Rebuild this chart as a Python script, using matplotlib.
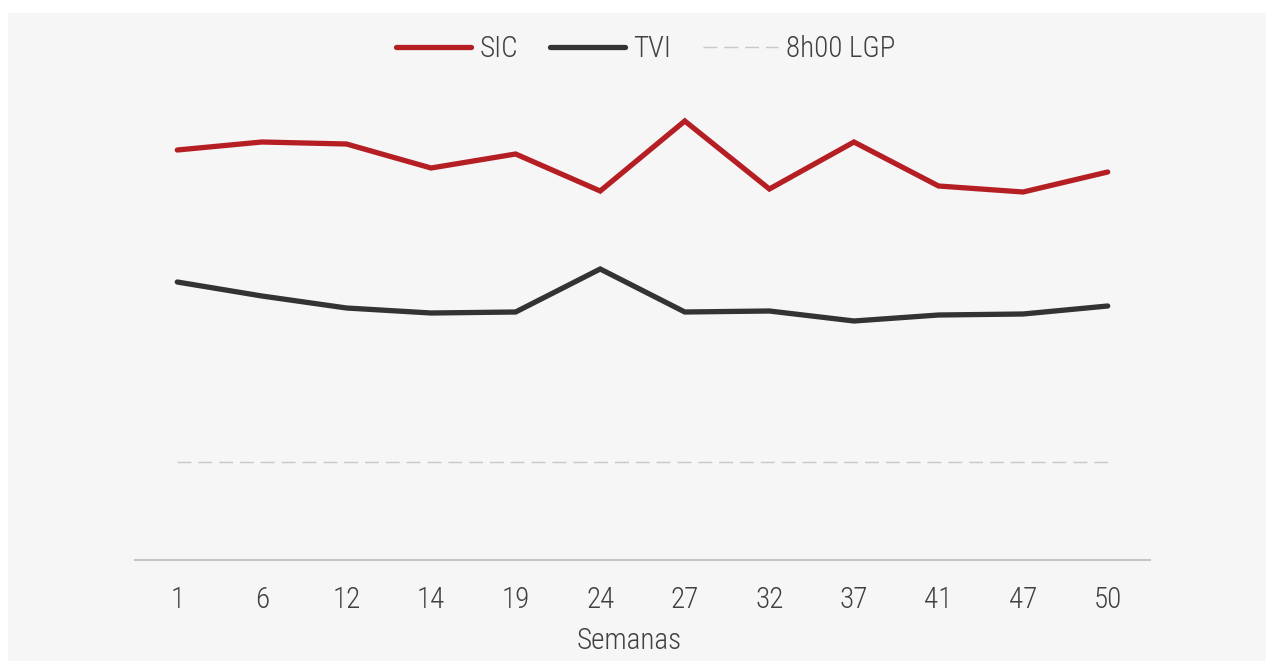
import matplotlib
matplotlib.use("Agg")
import matplotlib.pyplot as plt
from matplotlib.patches import Rectangle
from matplotlib import font_manager

weeks = ["1", "6", "12", "14", "19", "24", "27", "32", "37", "41", "47", "50"]
sic = [20.5, 20.9, 20.8, 19.6, 20.3, 18.45, 21.95, 18.55, 20.9, 18.7, 18.4, 19.4]
tvi = [13.9, 13.2, 12.6, 12.35, 12.4, 14.55, 12.4, 12.45, 11.95, 12.25, 12.3, 12.7]
lgp = [4.9] * len(weeks)

names = {f.name for f in font_manager.fontManager.ttflist}
fam = [f for f in ["Roboto Condensed", "Liberation Sans Narrow", "Open Sans Condensed", "Roboto", "DejaVu Sans"] if f in names]
plt.rcParams['font.family'] = fam + ["DejaVu Sans"]
plt.rcParams['font.weight'] = 'light'
plt.rcParams['axes.labelweight'] = 'light'

W, H = 1266, 661
fig = plt.figure(figsize=(W / 100, H / 100), dpi=100)
fig.patch.set_facecolor("white")
fig.patches.append(Rectangle((8 / W, 0), 1 - 8 / W, (H - 13) / H, transform=fig.transFigure,
                             facecolor="#f6f6f6", edgecolor="none", zorder=-10))

ax = fig.add_axes([135 / W, (H - 560) / H, 1015 / W, 480 / H])
ax.set_facecolor("none")

x = list(range(len(weeks)))
ax.plot(x, sic, color="#b51f24", lw=3.8, solid_capstyle="round", solid_joinstyle="miter", label="SIC")
ax.plot(x, tvi, color="#333333", lw=3.8, solid_capstyle="round", solid_joinstyle="miter", label="TVI")
ax.plot(x, lgp, color="#c8c8c8", lw=1.0, linestyle=(0, (10, 5)), label="8h00 LGP")

ax.set_xlim(-0.5, len(weeks) - 0.5)
ax.set_ylim(0, 24)
ax.set_xticks(x)
ax.set_xticklabels(weeks)
ax.set_yticks([])
for s in ["top", "right", "left"]:
    ax.spines[s].set_visible(False)
ax.spines["bottom"].set_color("#c4c4c4")
ax.spines["bottom"].set_linewidth(1.5)
ax.tick_params(axis="x", length=0, pad=19, labelsize=21, labelcolor="#404040")
ax.set_xlabel("Semanas", fontsize=21, color="#404040", fontweight="light")
ax.xaxis.set_label_coords((629 - 135) / 1015, -(641 - 560) / 480, transform=ax.transAxes)
ax.xaxis.label.set_va("center")

leg = fig.legend(loc="center", bbox_to_anchor=(646 / W, (H - 49) / H), ncol=3, frameon=False,
                 fontsize=21, handlelength=2.55, handletextpad=0.3, columnspacing=1.1,
                 labelcolor="#404040")

fig.savefig("out.png", dpi=100, facecolor=fig.get_facecolor())
